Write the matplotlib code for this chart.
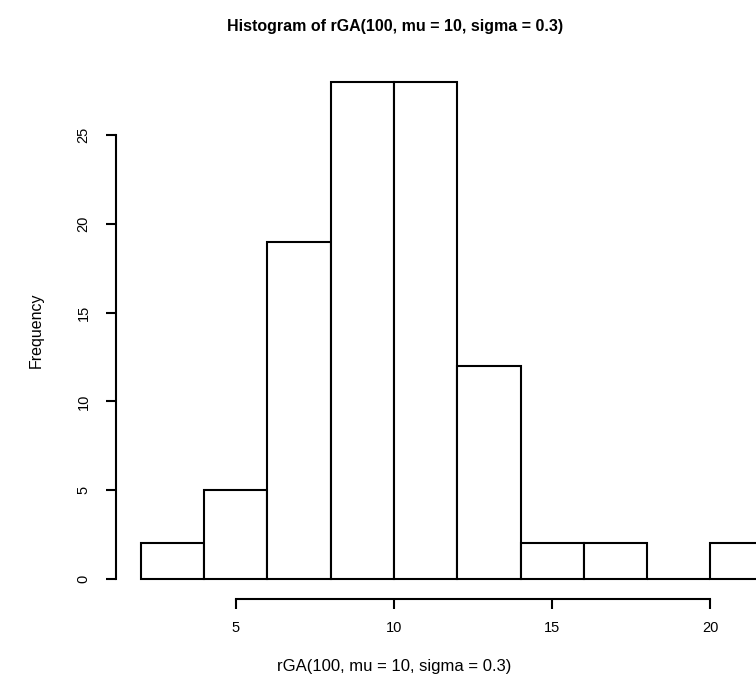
import matplotlib
matplotlib.use('Agg')
import matplotlib.pyplot as plt

plt.rcParams['font.family'] = ['Liberation Sans', 'DejaVu Sans']

# histogram bins and counts
breaks = [2, 4, 6, 8, 10, 12, 14, 16, 18, 20, 22]
counts = [2, 5, 19, 28, 28, 12, 2, 2, 0, 2]
x_ticks = [5, 10, 15, 20]
y_ticks = [0, 5, 10, 15, 20, 25]

title = 'Histogram of rGA(100, mu = 10, sigma = 0.3)'
xlabel = 'rGA(100, mu = 10, sigma = 0.3)'
ylabel = 'Frequency'

fig = plt.figure(figsize=(7.56, 6.79), dpi=100)
# plot region runs past the right edge of the figure
ax = fig.add_axes([0.1528, 0.118, 0.904, 0.791])

widths = [b - a for a, b in zip(breaks[:-1], breaks[1:])]
ax.bar(breaks[:-1], counts, width=widths, align='edge',
       facecolor='white', edgecolor='black', linewidth=1.5)

# R style: 4% padding, axis lines only across the tick range
span_x = breaks[-1] - breaks[0]
ax.set_xlim(breaks[0] - 0.04 * span_x, breaks[-1] + 0.04 * span_x)
ax.set_ylim(-0.04 * max(counts), max(counts) * 1.04)

for s in ['top', 'right']:
    ax.spines[s].set_visible(False)
ax.spines['left'].set_bounds(y_ticks[0], y_ticks[-1])
ax.spines['bottom'].set_bounds(x_ticks[0], x_ticks[-1])
for s in ['left', 'bottom']:
    ax.spines[s].set_linewidth(1.5)

ax.set_xticks(x_ticks)
ax.set_yticks(y_ticks)
ax.tick_params(axis='both', length=7, width=1.5, labelsize=10.5, colors='black')
ax.tick_params(axis='x', pad=9)
ax.tick_params(axis='y', pad=11)
for lbl in ax.get_yticklabels():
    lbl.set_rotation(90)
    lbl.set_va('center')

fig.text(0.522, 1 - 27 / 679, title, ha='center', va='center',
         fontsize=11.5, fontweight='bold')
fig.text(0.522, 1 - 667 / 679, xlabel, ha='center', va='center', fontsize=12)
fig.text(36 / 756, 1 - 330 / 679, ylabel, ha='center', va='center',
         rotation=90, fontsize=11.5)

fig.savefig('out.png', dpi=100)
